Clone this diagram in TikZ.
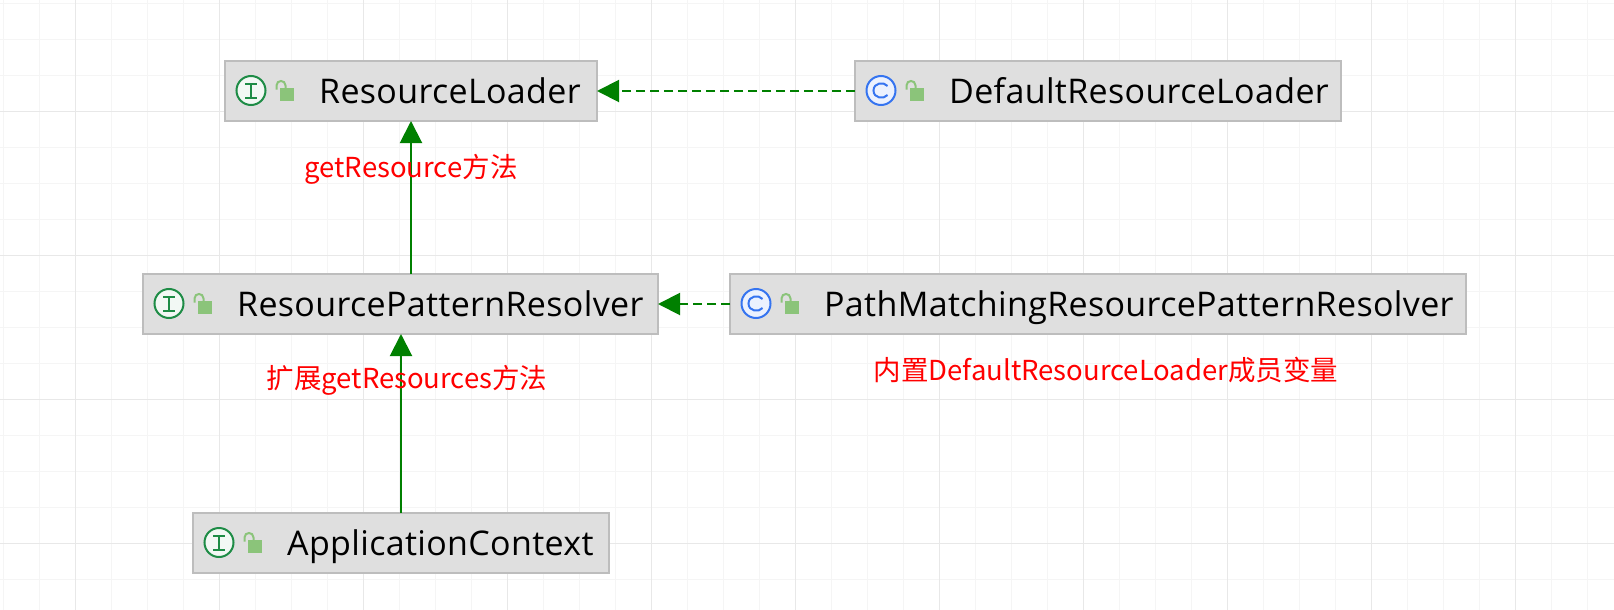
\documentclass[tikz,border=0pt]{standalone}
\usepackage{fontspec}
\setmainfont[LetterSpace=1.0]{Open Sans}
\newfontfamily\cjkfont{Noto Sans CJK SC}
\usetikzlibrary{arrows.meta,calc}
\definecolor{gridminor}{HTML}{F5F5F5}
\definecolor{gridmajor}{HTML}{E8E8E8}
\definecolor{boxfill}{HTML}{DFDFDF}
\definecolor{boxline}{HTML}{BDBDBD}
\definecolor{umlgreen}{HTML}{008000}
\definecolor{icongreen}{HTML}{1E8C46}
\definecolor{iconblue}{HTML}{3574F0}
\definecolor{lockgreen}{HTML}{8BC47A}
\tikzset{
  x=1pt,y=-1pt,
  umlbox/.style={draw=boxline,fill=boxfill,line width=2pt,rectangle,inner sep=0pt,outer sep=0pt},
  classname/.style={anchor=base west,inner sep=0pt,font=\fontsize{34}{40}\selectfont,text=black},
  note/.style={inner sep=0pt,text=red,font=\cjkfont\fontsize{27.5}{32}\selectfont},
  realize/.style={draw=umlgreen,line width=2pt,dash pattern=on 9pt off 5pt,-{Triangle[length=22pt,width=22pt,color=umlgreen,fill=umlgreen]}},
  extend/.style={draw=umlgreen,line width=2pt,-{Triangle[length=22pt,width=22pt,color=umlgreen,fill=umlgreen]}},
  iconI/.pic={
    \draw[icongreen,fill=icongreen!6,line width=2pt] (0,0) circle (14.5);
    \draw[icongreen,line width=2pt] (-6,-7) -- (6,-7) (-6,7) -- (6,7) (0,-7) -- (0,7);
  },
  iconC/.pic={
    \draw[iconblue,fill=iconblue!10,line width=2pt] (0,0) circle (14.5);
    \draw[iconblue,line width=2pt] (6.5,-4.5) .. controls (3,-9) and (-7.5,-8) .. (-7.5,0) .. controls (-7.5,8) and (3,9) .. (6.5,4.5);
  },
  lockicon/.pic={
    \fill[lockgreen] (0,-2.5) rectangle (14,10);
    \draw[lockgreen,line width=2pt] (-3,-1) -- (-3,-5) .. controls (-3,-11) and (6,-11) .. (6,-5) -- (6,-2);
  }
}
% name, x1, y1, x2, y2, icon, text
\newcommand{\classbox}[7]{%
  \node[umlbox,minimum width=#4-#2,minimum height=#5-#3] (#1) at ({(#2+#4)/2},{(#3+#5)/2}) {};
  \pic at ($(#1.north west)+(26,29.5)$) {#6};
  \pic at ($(#1.north west)+(54.5,29.5)$) {lockicon};
  \node[classname] (#1text) at ($(#1.north west)+(94,42)$) {#7};
}
\begin{document}
\begin{tikzpicture}
\useasboundingbox (0,0) rectangle (1614,610);
\fill[white] (0,0) rectangle (1614,610);
\foreach \i in {0,...,44}{\draw[gridminor,line width=1.5pt] ({3.5+36*\i},0) -- ({3.5+36*\i},610);}
\foreach \j in {0,...,16}{\draw[gridminor,line width=1.5pt] (0,{3.5+36*\j}) -- (1614,{3.5+36*\j});}
\foreach \i in {0,...,10}{\draw[gridmajor,line width=1.5pt] ({75.5+144*\i},0) -- ({75.5+144*\i},610);}
\foreach \j in {0,...,3}{\draw[gridmajor,line width=1.5pt] (0,{111.5+144*\j}) -- (1614,{111.5+144*\j});}

\classbox{rl}{225}{61}{597}{121}{iconI}{ResourceLoader}
\classbox{drl}{855}{61}{1341}{121}{iconC}{DefaultResourceLoader}
\classbox{rpr}{143}{274}{658}{334}{iconI}{ResourcePatternResolver}
\classbox{pmr}{730}{274}{1466}{334}{iconC}{PathMatchingResourcePatternResolver}
\classbox{ac}{193}{513}{609}{573}{iconI}{ApplicationContext}

\draw[realize] (drl.west) -- (rl.east);
\draw[realize] (pmr.west) -- (rpr.east);
\draw[extend] (rl.south |- rpr.north) -- (rl.south);
\draw[extend] (ac.north) -- (rpr.south -| ac.north);

\node[note] (n1) at (411,169) {getResource方法};
\node[note] (n2) at (407,380.5) {扩展getResources方法};
\node[note] (n3) at (1106,370) {内置DefaultResourceLoader成员变量};
\end{tikzpicture}
\end{document}
